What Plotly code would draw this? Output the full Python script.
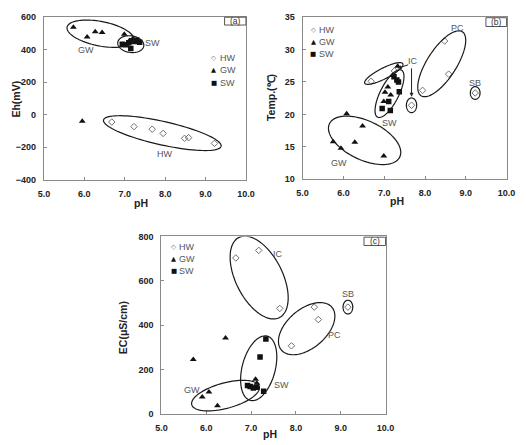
import numpy as np
import plotly.graph_objects as go

W, H = 526, 445

# ---------------- data ----------------
names = ["HW", "GW", "SW"]

# panel (a): Eh vs pH
hw_ph_a = [6.68, 7.23, 7.68, 7.95, 8.48, 8.58, 9.22]
hw_eh = [-45, -73, -89, -115, -145, -141, -176]
gw_ph_a = [5.73, 5.95, 6.07, 6.27, 6.44, 6.99, 7.12, 7.20]
gw_eh = [536, -41, 476, 508, 504, 492, 455, 465]
sw_ph_a = [6.94, 7.02, 7.10, 7.17, 7.24, 7.30, 7.37, 7.15]
sw_eh = [432, 428, 440, 452, 448, 456, 444, 406]

# panel (b): Temp vs pH
hw_ph_b = [6.68, 7.25, 7.67, 7.94, 8.48, 8.58, 9.23]
hw_temp = [25.1, 26.7, 21.4, 23.7, 31.3, 26.2, 23.3]
gw_ph_b = [5.75, 5.94, 6.08, 6.28, 6.47, 6.99, 7.02, 7.09, 7.16, 6.99, 7.33, 7.20]
gw_temp = [15.8, 14.8, 20.1, 15.7, 18.2, 13.6, 23.4, 24.2, 23.0, 22.0, 27.4, 26.0]
sw_ph_b = [7.24, 7.31, 7.35, 7.37, 6.95, 7.11, 7.15]
sw_temp = [25.8, 25.3, 25.0, 23.5, 20.9, 22.0, 20.6]

# panel (c): EC vs pH
hw_ph_c = [6.66, 7.17, 7.64, 7.90, 8.41, 8.50, 9.16]
hw_ec = [703, 737, 476, 308, 482, 426, 482]
gw_ph_c = [5.71, 5.91, 6.06, 6.25, 6.43, 7.10, 7.13]
gw_ec = [246, 78, 100, 38, 343, 158, 140]
sw_ph_c = [7.33, 7.20, 7.28, 6.92, 6.98, 7.05, 7.12]
sw_ec = [338, 258, 104, 130, 125, 118, 122]

x_ticks = [5.0, 6.0, 7.0, 8.0, 9.0, 10.0]
x_tick_text = ["5.0", "6.0", "7.0", "8.0", "9.0", "10.0"]

# group ellipses: (label, center x, center y, semi-major px, semi-minor px, angle deg)
ell_a = [("GW", 6.40, 496, 35, 12.5, -11), ("SW", 7.15, 432, 13.5, 8.5, -8),
         ("HW", 7.93, -113, 62, 12, -12.5)]
ell_b = [("IC1", 6.99, 26.3, 22, 5.5, 27), ("SW", 7.13, 23.2, 27, 9.5, 63),
         ("GW", 6.52, 16.0, 40, 20, -25), ("IC2", 7.67, 21.4, 7.5, 5.3, 90),
         ("PC", 8.41, 27.8, 39, 15, 57), ("SB", 9.23, 23.3, 6.5, 5, 90)]
ell_c = [("IC", 7.18, 615, 46, 24, -63), ("PC", 8.24, 385, 34, 20, 40),
         ("SB", 9.16, 482, 7, 5, 90), ("SW", 7.17, 207, 34, 17, 75),
         ("GW", 6.43, 84, 36, 13, 15)]

# ---------------- layout geometry (pixels) ----------------
panels = {
    "a": dict(xd=(39, 247), yd=(12, 179), yr=(-400, 600), dt=200, xa="x", ya="y"),
    "b": dict(xd=(305.3, 515.3), yd=(12.3, 178.3), yr=(10, 35), dt=5, xa="x2", ya="y2"),
    "c": dict(xd=(160, 390.7), yd=(236.7, 418.7), yr=(0, 800), dt=200, xa="x3", ya="y3"),
}
XR = (5, 10)

def px(x):
    return x / W

def py(y):
    return 1 - y / H

fig = go.Figure()

hw_style = dict(symbol="diamond-open", size=5, color="#707070", line=dict(width=1, color="#707070"))
gw_style = dict(symbol="triangle-up", size=6, color="#111111")
sw_style = dict(symbol="square", size=5.5, color="#111111")

series = {
    "a": [(hw_ph_a, hw_eh), (gw_ph_a, gw_eh), (sw_ph_a, sw_eh)],
    "b": [(hw_ph_b, hw_temp), (gw_ph_b, gw_temp), (sw_ph_b, sw_temp)],
    "c": [(hw_ph_c, hw_ec), (gw_ph_c, gw_ec), (sw_ph_c, sw_ec)],
}
styles = [hw_style, gw_style, sw_style]

for key, p in panels.items():
    for (xs, ys), st, nm in zip(series[key], styles, names):
        fig.add_trace(go.Scatter(x=xs, y=ys, mode="markers", marker=st, name=nm,
                                 xaxis=p["xa"], yaxis=p["ya"], showlegend=False))

axis_common = dict(showgrid=False, zeroline=False, showline=True, linecolor="#8a8a8a",
                   linewidth=1, mirror=True, ticks="inside", ticklen=3, tickcolor="#8a8a8a",
                   tickfont=dict(family="Arial, Liberation Sans", size=9, color="#222", weight="bold"))

layout = dict(width=W, height=H, margin=dict(l=0, r=0, t=0, b=0),
              paper_bgcolor="white", plot_bgcolor="white", showlegend=False)

for i, (key, p) in enumerate(panels.items()):
    sfx = "" if i == 0 else str(i + 1)
    layout["xaxis" + sfx] = dict(axis_common, domain=[px(p["xd"][0]), px(p["xd"][1])],
                                 range=list(XR), tickvals=x_ticks, ticktext=x_tick_text,
                                 anchor=p["ya"], ticklabelstandoff=5)
    layout["yaxis" + sfx] = dict(axis_common, domain=[py(p["yd"][1]), py(p["yd"][0])],
                                 range=list(p["yr"]), dtick=p["dt"], anchor=p["xa"],
                                 ticklabelstandoff=5)
fig.update_layout(**layout)

# ellipses
shapes = []
for key, ells in (("a", ell_a), ("b", ell_b), ("c", ell_c)):
    p = panels[key]
    sx = (p["xd"][1] - p["xd"][0]) / (XR[1] - XR[0])
    sy = (p["yd"][1] - p["yd"][0]) / (p["yr"][1] - p["yr"][0])
    t = np.linspace(0, 2 * np.pi, 90)
    for (_, cx, cy, a, b, ang) in ells:
        th = np.deg2rad(ang)
        dx = a * np.cos(t) * np.cos(th) - b * np.sin(t) * np.sin(th)
        dy = a * np.cos(t) * np.sin(th) + b * np.sin(t) * np.cos(th)
        xs = cx + dx / sx
        ys = cy + dy / sy
        path = "M " + " L ".join(f"{x:.4f},{y:.4f}" for x, y in zip(xs, ys)) + " Z"
        shapes.append(dict(type="path", path=path, xref=p["xa"], yref=p["ya"],
                           line=dict(color="#1a1a1a", width=1.2)))

# panel label boxes
boxes = [("(a)", 225, 12.5, 247, 20.5), ("(b)", 494, 13, 515.3, 22), ("(c)", 368.5, 237.5, 390.7, 246)]
annotations = []
for txt, x0, y0, x1, y1 in boxes:
    shapes.append(dict(type="rect", xref="paper", yref="paper", x0=px(x0), x1=px(x1),
                       y0=py(y1), y1=py(y0), line=dict(color="#555", width=1)))
    annotations.append(dict(text=txt, xref="paper", yref="paper", x=px((x0 + x1) / 2),
                            y=py((y0 + y1) / 2), showarrow=False, xanchor="center", yanchor="middle",
                            font=dict(family="Arial, Liberation Sans", size=8.5, color="#333")))

fig.update_layout(shapes=shapes)

lab_font = dict(family="Arial, Liberation Sans", size=9, color="#555555")
# group labels (pixel positions)
group_labels = [("GW", 82, 46), ("SW", 151, 38.5), ("HW", 164, 152),
                ("PC", 465, 23.5), ("IC", 419, 57.5), ("SB", 483, 79.5), ("SW", 395, 121), ("GW", 343, 162),
                ("IC", 279.5, 254.5), ("SB", 352.5, 296), ("PC", 338.5, 338), ("SW", 283.5, 389), ("GW", 191, 394)]
for txt, x, y in group_labels:
    annotations.append(dict(text=txt, xref="paper", yref="paper", x=px(x), y=py(y), showarrow=False,
                            xanchor="center", yanchor="middle", font=lab_font))

# legends (symbol + name)
glyphs = ["◇", "▲", "■"]
glyph_colors = ["#666", "#111", "#111"]
legend_pos = [(214, 54, 13), (316.5, 26, 12), (172.5, 248, 12.3)]
for (lx, ly, dy) in legend_pos:
    for i, (g, nm) in enumerate(zip(glyphs, names)):
        annotations.append(dict(text=g, xref="paper", yref="paper", x=px(lx), y=py(ly + i * dy),
                                showarrow=False, xanchor="center", yanchor="middle",
                                font=dict(family="DejaVu Sans", size=6.5, color=glyph_colors[i])))
        annotations.append(dict(text=nm, xref="paper", yref="paper", x=px(lx + 4), y=py(ly + i * dy),
                                showarrow=False, xanchor="left", yanchor="middle", font=lab_font))

# axis titles
title_font = dict(family="Arial, Liberation Sans", size=10.5, color="#222", weight="bold")
titles = [("Eh(mV)", 10, 96, -90), ("pH", 139, 203, 0), ("Temp.(℃)", 273, 95, -90),
          ("pH", 402, 201, 0), ("EC(μS/cm)", 120, 330, -90), ("pH", 272, 438.5, 0)]
for txt, x, y, ang in titles:
    annotations.append(dict(text=txt, xref="paper", yref="paper", x=px(x), y=py(y), showarrow=False,
                            xanchor="center", yanchor="middle", textangle=ang, font=title_font))

# arrows in panel (b)
annotations.append(dict(x=7.33, y=27.1, xref="x2", yref="y2", ax=12, ay=-4, text="", showarrow=True,
                        arrowhead=2, arrowsize=0.8, arrowwidth=1, arrowcolor="#222"))
annotations.append(dict(x=7.67, y=22.7, xref="x2", yref="y2", ax=0, ay=-30, text="", showarrow=True,
                        arrowhead=2, arrowsize=0.8, arrowwidth=1, arrowcolor="#222"))

fig.update_layout(annotations=annotations)
fig.write_html("out.html")
